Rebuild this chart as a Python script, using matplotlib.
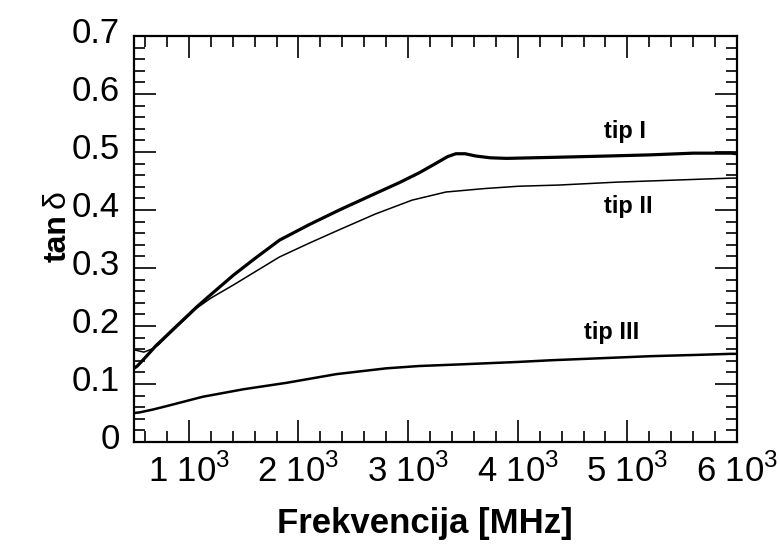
import numpy as np
import matplotlib

matplotlib.use("Agg")
import matplotlib.pyplot as plt
from matplotlib.ticker import MultipleLocator
from matplotlib.transforms import ScaledTranslation

plt.rcParams["font.family"] = ["Liberation Sans", "DejaVu Sans"]
plt.rcParams["mathtext.fontset"] = "custom"
plt.rcParams["mathtext.rm"] = "Liberation Sans"
plt.rcParams["mathtext.bf"] = "Liberation Sans:bold"

# frequency in MHz
freq_tip1 = [500, 530, 600, 700, 800, 900, 1073, 1200, 1409, 1600, 1827, 2100,
             2373, 2650, 2918, 3100, 3250, 3360, 3436, 3520, 3620, 3750, 3900,
             4373, 4800, 5200, 5600, 5945, 6000]
tan_tip1 = [0.127, 0.131, 0.145, 0.166, 0.184, 0.202, 0.233, 0.254, 0.288, 0.316,
            0.348, 0.375, 0.400, 0.424, 0.447, 0.464, 0.480, 0.492, 0.497, 0.497,
            0.493, 0.490, 0.489, 0.491, 0.493, 0.495, 0.498, 0.498, 0.497]

freq_tip2 = [500, 590, 660, 720, 800, 900, 1073, 1200, 1409, 1600, 1827, 2100,
             2373, 2700, 3036, 3345, 3700, 4010, 4373, 4900, 5500, 5945, 6000]
tan_tip2 = [0.159, 0.155, 0.160, 0.167, 0.182, 0.200, 0.231, 0.248, 0.271, 0.293,
            0.319, 0.343, 0.366, 0.393, 0.417, 0.431, 0.437, 0.441, 0.443, 0.448,
            0.452, 0.455, 0.455]

freq_tip3 = [500, 550, 673, 800, 1127, 1500, 1890, 2345, 2800, 3100, 3500, 4000,
             4310, 4700, 5218, 5600, 5945, 6000]
tan_tip3 = [0.050, 0.051, 0.056, 0.062, 0.078, 0.091, 0.102, 0.117, 0.127, 0.131,
            0.134, 0.138, 0.141, 0.144, 0.148, 0.150, 0.152, 0.152]

x_major = [1000, 2000, 3000, 4000, 5000, 6000]
x_labels = [r"1 10$^{3}$", r"2 10$^{3}$", r"3 10$^{3}$",
            r"4 10$^{3}$", r"5 10$^{3}$", r"6 10$^{3}$"]
y_major = [0, 0.1, 0.2, 0.3, 0.4, 0.5, 0.6, 0.7]
y_labels = ["0", "0.1", "0.2", "0.3", "0.4", "0.5", "0.6", "0.7"]

fig = plt.figure(figsize=(7.8, 5.52), dpi=100)
ax = fig.add_axes([134 / 780, 1 - 442 / 552, (737 - 134) / 780, (442 - 36) / 552])

ax.plot(freq_tip1, tan_tip1, color="black", linewidth=2.3)
ax.plot(freq_tip2, tan_tip2, color="black", linewidth=1.1)
ax.plot(freq_tip3, tan_tip3, color="black", linewidth=1.8)

ax.set_xlim(500, 6000)
ax.set_ylim(0, 0.7)

ax.set_xticks(x_major)
ax.set_xticklabels(x_labels)
ax.set_yticks(y_major)
ax.set_yticklabels(y_labels)
ax.xaxis.set_minor_locator(MultipleLocator(200))
ax.yaxis.set_minor_locator(MultipleLocator(0.02))

ax.tick_params(which="both", direction="in", top=True, right=True, width=1.2,
               labelsize=25)
ax.tick_params(which="major", length=16)
ax.tick_params(which="minor", length=8)
ax.tick_params(axis="x", which="major", pad=8)
ax.tick_params(axis="y", which="major", pad=10)

for spine in ax.spines.values():
    spine.set_linewidth(1.6)

# y tick labels sit a little above their ticks in the original
shift = ScaledTranslation(0, 4 / 72, fig.dpi_scale_trans)
for lbl in ax.get_yticklabels():
    lbl.set_transform(lbl.get_transform() + shift)

fig.text(625 / 780, 1 - 131 / 552, "tip I", ha="center", va="center",
         fontsize=17, fontweight="bold")
fig.text(628 / 780, 1 - 207 / 552, "tip II", ha="center", va="center",
         fontsize=17, fontweight="bold")
fig.text(612 / 780, 1 - 332 / 552, "tip III", ha="center", va="center",
         fontsize=17, fontweight="bold")

fig.text(425 / 780, 1 - 524 / 552, "Frekvencija [MHz]", ha="center", va="center",
         fontsize=25, fontweight="bold")
fig.text(58 / 780, 1 - 238 / 552, "tan", ha="center", va="center", rotation=90,
         fontsize=23, fontweight="bold")
fig.text(57 / 780, 1 - 199 / 552, "δ", ha="center", va="center", rotation=90,
         fontsize=23)

fig.savefig("out.png", dpi=100)
